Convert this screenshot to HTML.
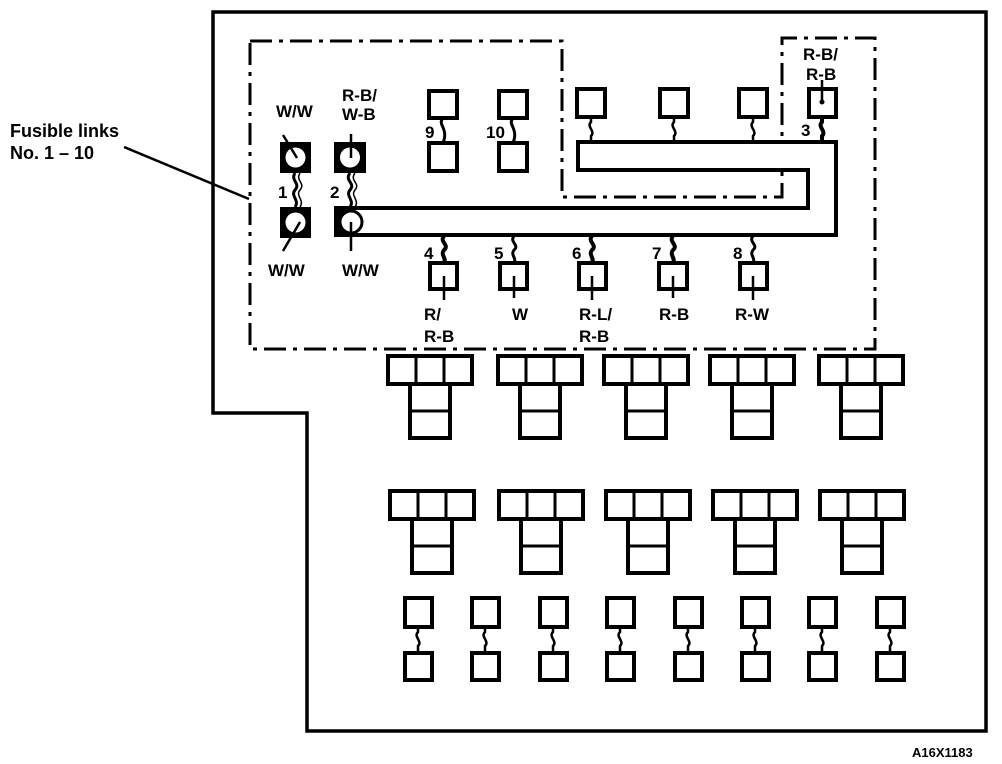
<!DOCTYPE html>
<html><head><meta charset="utf-8"><style>
html,body{margin:0;padding:0;background:#fff;}
svg{display:block;}
text{font-family:"Liberation Sans",Arial,sans-serif;font-weight:bold;fill:#000;}
</style></head><body>
<svg width="1002" height="764" viewBox="0 0 1002 764" xmlns="http://www.w3.org/2000/svg">
<defs>
<g id="T">
<rect x="-42" y="0" width="84" height="28" fill="none" stroke="#000" stroke-width="4"/>
<line x1="-14" y1="0" x2="-14" y2="28" stroke="#000" stroke-width="3"/>
<line x1="14" y1="0" x2="14" y2="28" stroke="#000" stroke-width="3"/>
<rect x="-20" y="28" width="40" height="54" fill="none" stroke="#000" stroke-width="4"/>
<line x1="-20" y1="55" x2="20" y2="55" stroke="#000" stroke-width="3"/>
</g>
<g id="F">
<rect x="-13" y="0" width="27" height="29" fill="none" stroke="#000" stroke-width="4"/>
<rect x="-13" y="55" width="27" height="27" fill="none" stroke="#000" stroke-width="4"/>
<path d="M0 29 v5 c-5 5 5 9 0 14 v7" fill="none" stroke="#000" stroke-width="2.5"/>
</g>
</defs>
<!-- outer body -->
<path d="M213 12 H986 V731 H307 V413 H213 Z" fill="none" stroke="#000" stroke-width="3.5"/>
<!-- dash-dot boundary -->
<path d="M250 41 H562 V197 H782 V38 H875 V349 H250 Z" fill="none" stroke="#000" stroke-width="3" stroke-dasharray="22,7,4,7"/>
<!-- leader -->
<text x="10" y="137" font-size="18">Fusible links</text>
<text x="10" y="159" font-size="18">No. 1 – 10</text>
<line x1="124" y1="147" x2="249" y2="199" stroke="#000" stroke-width="2.5"/>
<!-- bus bar -->
<path d="M578 142 H836 V235 H336 V208 H808 V170 H578 Z" fill="#fff" stroke="#000" stroke-width="4"/>
<!-- fuse 1 and 2 -->
<rect x="280" y="142" width="31" height="31" fill="#000"/>
<circle cx="295.5" cy="157.5" r="10" fill="#fff"/>
<rect x="280" y="207" width="31" height="31" fill="#000"/>
<circle cx="295.5" cy="222.5" r="10" fill="#fff"/>
<rect x="334" y="142" width="32" height="31" fill="#000"/>
<circle cx="350" cy="157.5" r="10" fill="#fff"/>
<rect x="334" y="207" width="14" height="29" fill="#000"/>
<circle cx="351" cy="222" r="11" fill="#fff" stroke="#000" stroke-width="3"/>
<line x1="283" y1="135" x2="297" y2="158" stroke="#000" stroke-width="2.5"/>
<line x1="283" y1="251" x2="300" y2="222" stroke="#000" stroke-width="2.5"/>
<line x1="351" y1="134" x2="351" y2="158" stroke="#000" stroke-width="2.5"/>
<line x1="351" y1="222" x2="351" y2="251" stroke="#000" stroke-width="2.5"/>
<path d="M295 173 c-5 8 6 10 0 17 c-5 6 5 10 0 17" fill="none" stroke="#000" stroke-width="3"/>
<path d="M300 173 c-5 8 6 10 0 17 c-5 6 5 10 0 17" fill="none" stroke="#000" stroke-width="1.5"/>
<path d="M350 173 c-6 8 6 10 0 17 c-5 6 5 10 0 17" fill="none" stroke="#000" stroke-width="3"/>
<path d="M355 173 c-6 8 6 10 0 17 c-5 6 5 10 0 17" fill="none" stroke="#000" stroke-width="1.5"/>
<text x="278" y="198" font-size="17">1</text>
<text x="330" y="198" font-size="17">2</text>
<text x="276" y="117" font-size="17">W/W</text>
<text x="342" y="101" font-size="17">R-B/</text>
<text x="342" y="120" font-size="17">W-B</text>
<text x="268" y="276" font-size="17">W/W</text>
<text x="342" y="276" font-size="17">W/W</text>
<!-- 9 & 10 -->
<rect x="429" y="91" width="28" height="27" fill="none" stroke="#000" stroke-width="4"/>
<rect x="429" y="143" width="28" height="28" fill="none" stroke="#000" stroke-width="4"/>
<path d="M443 118 c-6 7 6 10 0 25" fill="none" stroke="#000" stroke-width="3"/>
<rect x="499" y="91" width="28" height="27" fill="none" stroke="#000" stroke-width="4"/>
<rect x="499" y="143" width="28" height="28" fill="none" stroke="#000" stroke-width="4"/>
<path d="M513 118 c-6 7 6 10 0 25" fill="none" stroke="#000" stroke-width="3"/>
<text x="425" y="138" font-size="17">9</text>
<text x="486" y="138" font-size="17">10</text>
<!-- top boxes over bus -->
<g fill="none" stroke="#000" stroke-width="4">
<rect x="577" y="89" width="28" height="28"/>
<rect x="660" y="89" width="28" height="28"/>
<rect x="739" y="89" width="28" height="28"/>
<rect x="809" y="89" width="27" height="28"/>
</g>
<g fill="none" stroke="#000" stroke-width="2.5">
<path d="M591 117 v5 c-5 5 5 9 0 14 v6"/>
<path d="M674 117 v5 c-5 5 5 9 0 14 v6"/>
<path d="M753 117 v5 c-5 5 5 9 0 14 v6"/>
</g>
<path d="M822 117 v5 c-5 5 5 9 0 14 v6" fill="none" stroke="#000" stroke-width="4"/>
<line x1="822" y1="80" x2="822" y2="102" stroke="#000" stroke-width="2.5"/>
<circle cx="822" cy="102" r="2.5" fill="#000"/>
<text x="803" y="60" font-size="17">R-B/</text>
<text x="806" y="80" font-size="17">R-B</text>
<text x="801" y="136" font-size="17">3</text>
<!-- fuses 4-8 -->
<g id="f48" fill="none" stroke="#000">
<rect x="430" y="263" width="27" height="26" stroke-width="4"/>
<rect x="500" y="263" width="27" height="26" stroke-width="4"/>
<rect x="579" y="263" width="27" height="26" stroke-width="4"/>
<rect x="659" y="263" width="28" height="26" stroke-width="4"/>
<rect x="740" y="263" width="27" height="26" stroke-width="4"/>
<path d="M444 236 c-5 6 6 9 0 14 c-4 5 3 8 0 13" stroke-width="4"/>
<path d="M514 236 c-5 6 6 9 0 14 c-4 5 3 8 0 13" stroke-width="3"/>
<path d="M592 236 c-5 6 6 9 0 14 c-4 5 3 8 0 13" stroke-width="4"/>
<path d="M673 236 c-5 6 6 9 0 14 c-4 5 3 8 0 13" stroke-width="4"/>
<path d="M753 236 c-5 6 6 9 0 14 c-4 5 3 8 0 13" stroke-width="3"/>
<path d="M444 276 v24 M514 276 v22 M592 276 v24 M673 276 v22 M753 276 v24" stroke-width="2.5"/>
</g>
<text x="424" y="259" font-size="17">4</text>
<text x="494" y="259" font-size="17">5</text>
<text x="572" y="259" font-size="17">6</text>
<text x="652" y="259" font-size="17">7</text>
<text x="733" y="259" font-size="17">8</text>
<text x="424" y="320" font-size="17">R/</text>
<text x="424" y="342" font-size="17">R-B</text>
<text x="512" y="320" font-size="17">W</text>
<text x="579" y="320" font-size="17">R-L/</text>
<text x="579" y="342" font-size="17">R-B</text>
<text x="659" y="320" font-size="17">R-B</text>
<text x="735" y="320" font-size="17">R-W</text>
<!-- T connectors -->
<use href="#T" x="430" y="356"/>
<use href="#T" x="540" y="356"/>
<use href="#T" x="646" y="356"/>
<use href="#T" x="752" y="356"/>
<use href="#T" x="861" y="356"/>
<use href="#T" x="432" y="491"/>
<use href="#T" x="541" y="491"/>
<use href="#T" x="648" y="491"/>
<use href="#T" x="755" y="491"/>
<use href="#T" x="862" y="491"/>
<!-- small fuses -->
<use href="#F" x="418" y="598"/>
<use href="#F" x="485" y="598"/>
<use href="#F" x="553" y="598"/>
<use href="#F" x="620" y="598"/>
<use href="#F" x="688" y="598"/>
<use href="#F" x="755" y="598"/>
<use href="#F" x="822" y="598"/>
<use href="#F" x="890" y="598"/>
<text x="912" y="757" font-size="13">A16X1183</text>
</svg>
</body></html>
